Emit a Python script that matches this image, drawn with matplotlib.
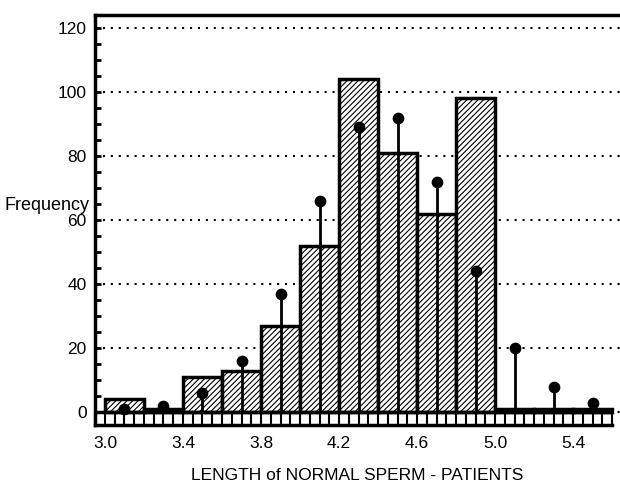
import numpy as np
import matplotlib
matplotlib.use('Agg')
import matplotlib.pyplot as plt
from matplotlib.ticker import MultipleLocator

# bins of sperm length (left edges, width 0.2)
bin_left = [3.0, 3.2, 3.4, 3.6, 3.8, 4.0, 4.2, 4.4, 4.6, 4.8, 5.0, 5.2, 5.4]
bar_freq = [4, 1, 11, 13, 27, 52, 104, 81, 62, 98, 1, 1, 1]
stem_freq = [1, 2, 6, 16, 37, 66, 89, 92, 72, 44, 20, 8, 3]
x_ticks = [3.0, 3.4, 3.8, 4.2, 4.6, 5.0, 5.4]
y_ticks = [0, 20, 40, 60, 80, 100, 120]

plt.rcParams['font.family'] = ['Liberation Sans', 'DejaVu Sans']
plt.rcParams['hatch.linewidth'] = 0.8

if __name__ == '__main__':
    fig = plt.figure(figsize=(6.2, 4.87), dpi=100)
    ax = fig.add_axes([95 / 620, 1 - 425 / 487, 1 - 95 / 620, (425 - 15) / 487])

    width = 0.2
    centers = np.array(bin_left) + width / 2
    x_end = bin_left[-1] + width

    ax.bar(bin_left, bar_freq, width=width, align='edge', color='white',
           edgecolor='black', linewidth=2.5, hatch='//////', zorder=2)
    ax.vlines(centers, 0, stem_freq, colors='black', linewidth=2, zorder=3)
    ax.scatter(centers, stem_freq, s=55, color='black', zorder=4)

    ax.set_xlim(2.949, 5.64)
    ax.set_ylim(-4, 124)
    ax.hlines(0, 2.949, x_end, color='black', linewidth=2.5, zorder=3)

    ax.set_yticks(y_ticks)
    ax.yaxis.set_minor_locator(MultipleLocator(5))
    ax.set_xticks(x_ticks)
    ax.set_xticklabels(['%.1f' % v for v in x_ticks])
    ax.xaxis.set_minor_locator(MultipleLocator(0.05))

    ax.grid(axis='y', which='major', color='black', linestyle=(0, (1, 2.8)),
            linewidth=1.5, zorder=1)
    ax.set_axisbelow(True)

    ax.tick_params(axis='y', which='both', direction='in', length=4,
                   width=2, labelsize=12.5, pad=6)
    ax.tick_params(axis='x', which='both', direction='in', length=9.4,
                   width=1.5, labelsize=12.5, pad=8)

    for s in ['left', 'bottom', 'top']:
        ax.spines[s].set_linewidth(2.5)
    ax.spines['bottom'].set_bounds(2.949, x_end)
    ax.spines['right'].set_visible(False)

    ax.set_xlabel('LENGTH of NORMAL SPERM - PATIENTS', fontsize=12.5, labelpad=12)
    fig.text(90 / 620, 1 - 205 / 487, 'Frequency', ha='right', va='center',
             fontsize=13)

    fig.savefig('out.png', dpi=100)
